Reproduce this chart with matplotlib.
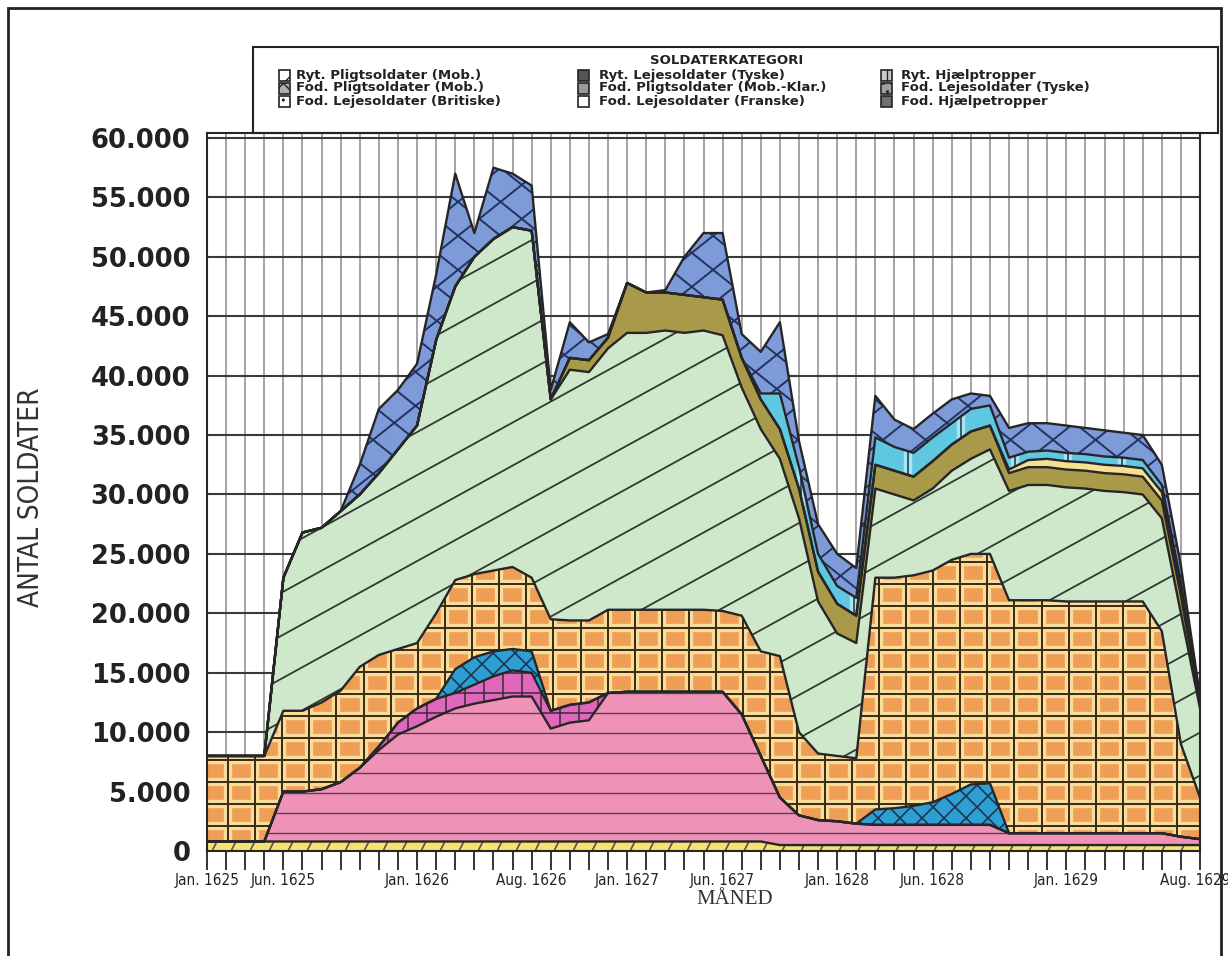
import numpy as np
import matplotlib.pyplot as plt
from matplotlib import font_manager
from matplotlib.collections import LineCollection
from matplotlib.patches import Rectangle
from matplotlib.transforms import ScaledTranslation

# --- data (soldiers per month, stacked from the bottom) ---
months = np.arange(53)
tick_pos = [0, 4, 11, 17, 22, 27, 33, 38, 45, 52]
tick_labels = ['Jan. 1625', 'Jun. 1625', 'Jan. 1626', 'Aug. 1626', 'Jan. 1627',
               'Jun. 1627', 'Jan. 1628', 'Jun. 1628', 'Jan. 1629', 'Aug. 1629']

y_ticks = [0, 5000, 10000, 15000, 20000, 25000, 30000,
           35000, 40000, 45000, 50000, 55000, 60000]
y_labels = ['0', '5.000', '10.000', '15.000', '20.000', '25.000', '30.000',
            '35.000', '40.000', '45.000', '50.000', '55.000', '60.000']

ryt_pligt = [800, 800, 800, 800, 800, 800, 800, 800, 800, 800,
             800, 800, 800, 800, 800, 800, 800, 800, 800, 800,
             800, 800, 800, 800, 800, 800, 800, 800, 800, 800,
             500, 500, 500, 500, 500, 500, 500, 500, 500, 500,
             500, 500, 500, 500, 500, 500, 500, 500, 500, 500,
             500, 500, 500]
fod_leje_tysk = [0, 0, 0, 0, 4200, 4200, 4400, 5000, 6200, 7700,
                 9000, 9700, 10500, 11200, 11600, 11900, 12200, 12200, 9500, 10000,
                 10200, 12500, 12600, 12600, 12600, 12600, 12600, 12600, 10700, 7200,
                 4000, 2500, 2100, 2000, 1800, 1700, 1700, 1700, 1700, 1700,
                 1700, 1700, 1000, 1000, 1000, 1000, 1000, 1000, 1000, 1000,
                 1000, 700, 500]
ryt_leje_tysk = [0, 0, 0, 0, 0, 0, 0, 0, 0, 300,
                 1000, 1500, 1500, 1300, 1600, 2000, 2200, 2000, 1500, 1500,
                 1500, 0, 0, 0, 0, 0, 0, 0, 0, 0,
                 0, 0, 0, 0, 0, 0, 0, 0, 0, 0,
                 0, 0, 0, 0, 0, 0, 0, 0, 0, 0,
                 0, 0, 0]
fod_leje_brit = [0, 0, 0, 0, 0, 0, 0, 0, 0, 0,
                 0, 0, 0, 2000, 2300, 2100, 1800, 1800, 0, 0,
                 0, 0, 0, 0, 0, 0, 0, 0, 0, 0,
                 0, 0, 0, 0, 0, 1300, 1400, 1600, 1900, 2600,
                 3400, 3500, 0, 0, 0, 0, 0, 0, 0, 0,
                 0, 0, 0]
fod_pligt_klar = [7200, 7200, 7200, 7200, 6800, 6800, 7300, 7700, 8500, 7700,
                  6200, 5500, 7200, 7500, 7000, 6800, 6900, 6200, 7700, 7100,
                  6900, 7000, 6900, 6900, 6900, 6900, 6900, 6800, 8300, 8800,
                  11900, 7000, 5600, 5500, 5500, 19500, 19400, 19400, 19500, 19700,
                  19400, 19300, 19600, 19600, 19600, 19500, 19500, 19500, 19500, 19500,
                  17000, 7800, 3500]
fod_pligt = [0, 0, 0, 0, 11200, 15000, 14700, 15100, 14500, 15300,
             16800, 18300, 23000, 24700, 26700, 27900, 28600, 29200, 18500, 21100,
             20900, 22000, 23300, 23300, 23500, 23300, 23500, 23200, 19200, 18700,
             16600, 18000, 12800, 10300, 9700, 7500, 7000, 6300, 6900, 7500,
             8000, 8800, 9200, 9700, 9700, 9600, 9500, 9300, 9200, 9000,
             9500, 11000, 7500]
ryt_leje_ovr = [0, 0, 0, 0, 0, 0, 0, 0, 0, 0,
                0, 0, 0, 0, 0, 0, 0, 0, 0, 1000,
                1000, 900, 4200, 3400, 3200, 3200, 2800, 3000, 2500, 2500,
                2500, 2500, 2500, 2500, 2300, 2000, 2000, 2000, 2300, 2200,
                2300, 2000, 1500, 1500, 1500, 1500, 1500, 1500, 1500, 1500,
                1500, 1500, 300]
fod_leje_fransk = [0, 0, 0, 0, 0, 0, 0, 0, 0, 0,
                   0, 0, 0, 0, 0, 0, 0, 0, 0, 0,
                   0, 0, 0, 0, 0, 0, 0, 0, 0, 0,
                   0, 0, 0, 0, 0, 0, 0, 0, 0, 0,
                   0, 0, 300, 600, 700, 700, 700, 700, 700, 700,
                   700, 500, 0]
ryt_hjaelp = [0, 0, 0, 0, 0, 0, 0, 0, 0, 0,
              0, 0, 0, 0, 0, 0, 0, 0, 0, 0,
              0, 0, 0, 0, 0, 0, 0, 0, 0, 500,
              3000, 1800, 1500, 1500, 1500, 2300, 2000, 2000, 2000, 1800,
              1900, 1700, 1000, 700, 700, 700, 700, 700, 700, 700,
              600, 600, 300]
fod_hjaelp = [0, 0, 0, 0, 0, 0, 0, 0, 2500, 5400,
              5000, 5200, 5500, 9500, 2000, 6000, 4500, 3800, 800, 3000,
              1500, 300, 0, 0, 200, 3200, 5400, 5600, 2000, 3500,
              6000, 2200, 2500, 2700, 2500, 3500, 2300, 2000, 2000, 2000,
              1300, 800, 2500, 2400, 2300, 2300, 2200, 2200, 2100, 2100,
              1700, 1400, 400]

legend_labels = ['Ryt. Pligtsoldater (Mob.)', 'Fod. Pligtsoldater (Mob.)',
                 'Fod. Lejesoldater (Britiske)', 'Ryt. Lejesoldater (Tyske)',
                 'Fod. Pligtsoldater (Mob.-Klar.)', 'Fod. Lejesoldater (Franske)',
                 'Ryt. Hjælptropper', 'Fod. Lejesoldater (Tyske)',
                 'Fod. Hjælpetropper']

# --- geometry helpers ---
W, H = 1228, 956
PPX = 993 / 52        # pixels per month
PPY = 718 / 60420     # pixels per soldier


def fx(px):
    return px / W


def fy(py):
    return 1 - py / H


def diag_lines(slope_px, step_px):
    k = slope_px * PPX / PPY
    step = step_px / PPY
    lo = min(0.0, -k * 53) - step
    hi = 61000 + max(0.0, -k * 53) + step
    return [[(-1, c - k), (53, c + 53 * k)] for c in np.arange(lo, hi, step)]


def horiz_lines(step, off):
    return [[(-1, y), (53, y)] for y in np.arange(off, 61000, step)]


def vert_lines(step, off):
    return [[(x, 0), (x, 61000)] for x in np.arange(off, 53, step)]


names = {f.name for f in font_manager.fontManager.ttflist}
NARROW = 'Liberation Sans Narrow' if 'Liberation Sans Narrow' in names else 'DejaVu Sans'
SERIF = 'Liberation Serif' if 'Liberation Serif' in names else 'DejaVu Serif'

fig = plt.figure(figsize=(W / 100, H / 100), dpi=100)
ax = fig.add_axes([fx(207), fy(851), fx(1200) - fx(207), fy(133) - fy(851)])

stack = [ryt_pligt, fod_leje_tysk, ryt_leje_tysk, fod_leje_brit, fod_pligt_klar,
         fod_pligt, ryt_leje_ovr, fod_leje_fransk, ryt_hjaelp, fod_hjaelp]
tops = np.cumsum(np.array(stack, dtype=float), axis=0)
bottoms = np.vstack([np.zeros(len(months)), tops[:-1]])

orange_grid = vert_lines(1.42, 1.1) + horiz_lines(22 / PPY, 2100)
# (face, hatch segments, hatch colour, hatch width, pale under-stroke)
styles = [
    ('#f4e36e', diag_lines(2.0, 38), '#555555', 1.2, None),
    ('#ee92b8', horiz_lines(20 / PPY, 1500), '#5a4048', 1.0, None),
    ('#e068bc', vert_lines(1.0, 0.5) + horiz_lines(20 / PPY, 1500), '#3a2a36', 1.1, None),
    ('#2e9fd4', diag_lines(1.0, 22) + diag_lines(-1.0, 22), '#1d3550', 1.2, None),
    ('#ef9f55', orange_grid, '#3a2a12', 1.4, '#f7dc9c'),
    ('#cfe8cc', diag_lines(0.55, 43), '#2e3a30', 1.3, None),
    ('#a99a4a', [], None, 0, None),
    ('#f4e290', [], None, 0, None),
    ('#5fc7e2', vert_lines(2.8, 0.3), '#234050', 1.2, '#a8e4f0'),
    ('#7d9ad9', diag_lines(0.8, 34) + diag_lines(-0.8, 34), '#22325e', 1.4, None),
]

for i, (color, segs, hc, hlw, pale) in enumerate(styles):
    poly = ax.fill_between(months, bottoms[i], tops[i], facecolor=color,
                           edgecolor='none', lw=0, zorder=2)
    path = poly.get_paths()[0]
    if pale:
        under = LineCollection(segs, colors=pale, linewidths=6, zorder=2.3)
        ax.add_collection(under, autolim=False)
        under.set_clip_path(path, ax.transData)
    if segs:
        lc = LineCollection(segs, colors=hc, linewidths=hlw, zorder=2.5)
        ax.add_collection(lc, autolim=False)
        lc.set_clip_path(path, ax.transData)

for i in range(len(stack)):
    ax.plot(months, tops[i], color='#262626', lw=1.7, zorder=3)

ax.set_xlim(0, 52)
ax.set_ylim(0, 60420)
ax.set_axisbelow(True)
ax.yaxis.grid(True, color='#3a3a3a', lw=1.5)
ax.xaxis.grid(True, color='#8c8c8c', lw=1.1)

ax.set_yticks(y_ticks)
ax.set_yticklabels(y_labels, fontsize=18.5, fontweight='bold', family='DejaVu Sans',
                   color='#222222')
ax.tick_params(axis='y', length=0, pad=12)

xlab = [''] * len(months)
for p, lab in zip(tick_pos, tick_labels):
    xlab[p] = lab
ax.set_xticks(months)
ax.set_xticklabels(xlab, fontsize=11, family=NARROW, fontstretch='condensed',
                   color='#222222')
ax.tick_params(axis='x', length=14, width=1.4, pad=2, color='#333333')
last = ax.get_xticklabels()[tick_pos[-1]]
last.set_transform(last.get_transform()
                   + ScaledTranslation(-0.05, 0, fig.dpi_scale_trans))
for s in ax.spines.values():
    s.set_color('#262626')
    s.set_linewidth(1.5)

fig.text(fx(31), fy(497), 'ANTAL SOLDATER', rotation=90, ha='center', va='center',
         fontsize=20, family=NARROW, fontstretch='condensed', color='#333333')
fig.text(fx(735), fy(900), 'MÅNED', ha='center', va='center', fontsize=15,
         family=SERIF, color='#333333')

# legend box (black and white icons as in the printout)
fig.add_artist(Rectangle((fx(253), fy(133)), fx(1218) - fx(253), fy(47) - fy(133),
                         transform=fig.transFigure, fill=False,
                         edgecolor='#222222', lw=1.5))
fig.add_artist(Rectangle((fx(8), fy(958)), fx(1221) - fx(8), fy(8) - fy(958),
                         transform=fig.transFigure, fill=False,
                         edgecolor='#222222', lw=2))
fig.text(fx(727), fy(61), 'SOLDATERKATEGORI', ha='center', va='center',
         fontsize=9.5, fontweight='bold', color='#222222')

icon_styles = [('white', '/'), ('#b0b0b0', 'xx'), ('white', '..'),
               ('#555555', None), ('#9a9a9a', None), ('white', None),
               ('#c8c8c8', '||'), ('#a0a0a0', '..'), ('#707070', None)]
col_icon = [284, 583, 886]
col_text = [296, 599, 901]
row_y = [75, 88, 101]
for n, lab in enumerate(legend_labels):
    c, r = divmod(n, 3)
    face, hatch = icon_styles[n]
    fig.add_artist(Rectangle((fx(col_icon[c] - 5.5), fy(row_y[r] + 5.5)),
                             11 / W, 11 / H, transform=fig.transFigure,
                             facecolor=face, edgecolor='#222222', lw=1.2,
                             hatch=hatch))
    fig.text(fx(col_text[c]), fy(row_y[r]), lab, ha='left', va='center',
             fontsize=9.5, fontweight='bold', color='#222222')

fig.savefig('out.png', dpi=100)
